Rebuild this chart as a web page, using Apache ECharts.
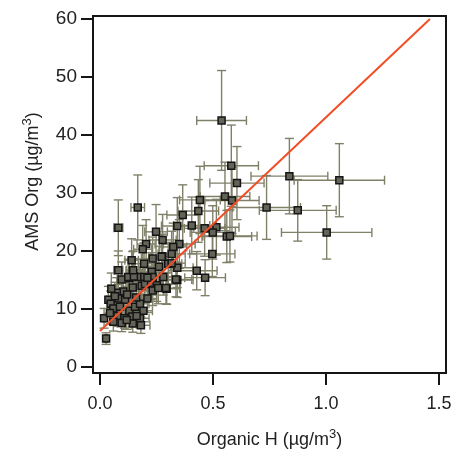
<!DOCTYPE html>
<html>
<head>
<meta charset="utf-8">
<script src="https://cdn.jsdelivr.net/npm/echarts@6/dist/echarts.min.js"></script>
<style>
  html, body { margin: 0; padding: 0; background: #fff; }
  #chart { width: 455px; height: 452px; }
</style>
</head>
<body>
<div id="chart"></div>
<script>
// 측정값 (Organic H, AMS Org) 과 오차
const xVals = [0.538, 0.581, 0.606, 0.553, 0.584, 0.737, 0.838, 1.059, 0.875, 1.003,
  0.167, 0.081, 0.442, 0.435, 0.366, 0.342, 0.406, 0.463, 0.515, 0.499,
  0.561, 0.575, 0.248, 0.277, 0.204, 0.189, 0.351, 0.324, 0.317, 0.497,
  0.140, 0.233, 0.276, 0.195, 0.261, 0.302, 0.342, 0.428, 0.081, 0.145,
  0.229, 0.096, 0.130, 0.170, 0.196, 0.233, 0.280, 0.342, 0.465, 0.145,
  0.184, 0.199, 0.226, 0.251, 0.295, 0.233, 0.258, 0.103, 0.074, 0.037,
  0.047, 0.081, 0.111, 0.059, 0.088, 0.130, 0.155, 0.192, 0.177, 0.077,
  0.108, 0.143, 0.177, 0.018, 0.059, 0.096, 0.145, 0.181, 0.027, 0.044,
  0.066, 0.118, 0.162, 0.120, 0.210, 0.160, 0.050, 0.125, 0.150, 0.210,
  0.292, 0.317, 0.336, 0.273, 0.147];
const yVals = [42.5, 34.7, 31.7, 29.4, 28.7, 27.5, 32.9, 32.2, 27.0, 23.2,
  27.5, 24.0, 28.8, 26.9, 26.2, 24.3, 24.4, 23.9, 24.1, 23.2,
  22.5, 22.6, 23.3, 21.9, 21.2, 20.3, 21.2, 20.7, 19.5, 19.5,
  18.4, 18.7, 19.1, 17.8, 17.3, 17.8, 17.1, 16.6, 16.7, 16.6,
  16.4, 15.1, 15.3, 15.5, 15.5, 15.5, 15.5, 15.0, 15.4, 13.7,
  14.0, 14.3, 14.5, 14.1, 13.5, 13.2, 13.6, 13.0, 12.8, 11.6,
  10.9, 11.8, 11.6, 10.1, 10.4, 9.7, 10.4, 9.7, 10.9, 8.8,
  8.4, 8.7, 8.4, 8.4, 7.8, 7.6, 7.5, 7.2, 4.9, 9.3,
  12.2, 8.1, 8.8, 12.5, 11.8, 12.0, 13.5, 15.5, 15.6, 15.4,
  13.6, 17.9, 15.1, 19.0, 16.7];
const xErr = [0.11, 0.12, 0.12, 0.11, 0.12, 0.15, 0.17, 0.20, 0.17, 0.20,
  0.03, 0.02, 0.09, 0.09, 0.07, 0.07, 0.08, 0.09, 0.10, 0.10,
  0.11, 0.12, 0.05, 0.06, 0.04, 0.04, 0.07, 0.06, 0.06, 0.10,
  0.03, 0.05, 0.06, 0.04, 0.05, 0.06, 0.07, 0.09, 0.02, 0.03,
  0.05, 0.02, 0.03, 0.03, 0.04, 0.05, 0.06, 0.07, 0.09, 0.03,
  0.04, 0.04, 0.05, 0.05, 0.06, 0.05, 0.05, 0.02, 0.015, 0.008,
  0.01, 0.02, 0.02, 0.012, 0.02, 0.03, 0.03, 0.04, 0.04, 0.015,
  0.02, 0.03, 0.04, 0.004, 0.012, 0.02, 0.03, 0.04, 0.005, 0.01,
  0.013, 0.02, 0.03, 0.02, 0.04, 0.03, 0.01, 0.03, 0.03, 0.04,
  0.06, 0.06, 0.07, 0.05, 0.03];
const yErr = [8.6, 7.0, 6.3, 5.9, 5.7, 5.5, 6.5, 6.3, 5.3, 4.6,
  5.6, 4.8, 5.8, 5.4, 5.2, 4.9, 4.9, 4.8, 4.8, 4.6,
  4.5, 4.5, 4.7, 4.4, 4.2, 4.1, 4.2, 4.1, 3.9, 3.9,
  3.7, 3.7, 3.8, 3.6, 3.5, 3.6, 3.4, 3.3, 3.3, 3.3,
  3.3, 3.0, 3.1, 3.1, 3.1, 3.1, 3.1, 3.0, 3.1, 2.7,
  2.8, 2.9, 2.9, 2.8, 2.7, 2.6, 2.7, 2.6, 2.6, 2.3,
  2.2, 2.4, 2.3, 2.0, 2.1, 1.9, 2.1, 1.9, 2.2, 1.8,
  1.7, 1.7, 1.7, 1.7, 1.6, 1.5, 1.5, 1.4, 1.0, 1.9,
  2.4, 1.6, 1.8, 2.5, 2.4, 2.4, 2.7, 3.1, 3.1, 3.1,
  2.7, 3.6, 3.0, 3.8, 3.3];

// 회귀선 양 끝점
const fitX = [0, 1.46];
const fitY = [6.2, 60];

// 눈금
const xTicks = [0, 0.5, 1.0, 1.5];
const yTicks = [0, 10, 20, 30, 40, 50, 60];

const chart = echarts.init(document.getElementById('chart'));

const points = xVals.map((x, i) => [x, yVals[i]]);
const errData = xVals.map((x, i) => [x, yVals[i], xErr[i], yErr[i]]);
const fitData = fitX.map((x, i) => [x, fitY[i]]);

const barColor = '#808069';
const cap = 4.5;

// 오차 막대 (가로, 세로 + 끝 캡)
function renderErr(params, api) {
    const x = api.value(0), y = api.value(1);
    const ex = api.value(2), ey = api.value(3);
    const l = api.coord([x - ex, y]);
    const r = api.coord([x + ex, y]);
    const t = api.coord([x, y + ey]);
    const b = api.coord([x, y - ey]);
    const st = { stroke: barColor, lineWidth: 1.4 };
    const seg = (x1, y1, x2, y2) => ({ type: 'line', shape: { x1, y1, x2, y2 }, style: st });
    return {
        type: 'group',
        children: [
            seg(l[0], l[1], r[0], r[1]),
            seg(t[0], t[1], b[0], b[1]),
            seg(l[0], l[1] - cap, l[0], l[1] + cap),
            seg(r[0], r[1] - cap, r[0], r[1] + cap),
            seg(t[0] - cap, t[1], t[0] + cap, t[1]),
            seg(b[0] - cap, b[1], b[0] + cap, b[1])
        ]
    };
}

const font = 'Liberation Sans, Arial, sans-serif';

const option = {
    backgroundColor: '#fff',
    animation: false,
    grid: {
        left: 93, right: 9, top: 16, bottom: 79,
        outerBoundsMode: 'none',
        show: true, borderColor: '#151515', borderWidth: 2
    },
    xAxis: {
        type: 'value',
        min: -0.031, max: 1.531,
        splitLine: { show: false },
        axisLine: { show: true, onZero: false, lineStyle: { color: '#151515', width: 2 } },
        axisTick: { show: true, inside: false, length: 12, customValues: xTicks,
            lineStyle: { color: '#151515', width: 2 } },
        axisLabel: { customValues: xTicks, margin: 22, fontSize: 18, color: '#222',
            fontFamily: font, formatter: v => v.toFixed(1) },
        name: 'Organic H (µg/m{sup|3})',
        nameLocation: 'middle',
        nameGap: 55,
        nameTextStyle: { fontSize: 18, color: '#222', fontFamily: font,
            rich: { sup: { fontSize: 13, color: '#222', fontFamily: font, padding: [0, 0, 12, 0] } } }
    },
    yAxis: {
        type: 'value',
        min: -1.03, max: 60.5,
        splitLine: { show: false },
        axisLine: { show: true, onZero: false, lineStyle: { color: '#151515', width: 2 } },
        axisTick: { show: true, inside: false, length: 12, customValues: yTicks,
            lineStyle: { color: '#151515', width: 2 } },
        axisLabel: { customValues: yTicks, margin: 16, fontSize: 19, color: '#222', fontFamily: font },
        name: 'AMS Org (µg/m{sup|3})',
        nameLocation: 'middle',
        nameGap: 47,
        nameTextStyle: { fontSize: 18, color: '#222', fontFamily: font, padding: [0, 0, 0, 26],
            rich: { sup: { fontSize: 13, color: '#222', fontFamily: font, padding: [0, 0, 12, 0] } } }
    },
    series: [
        {
            type: 'custom',
            renderItem: renderErr,
            data: errData,
            encode: { x: 0, y: 1 },
            z: 1,
            silent: true
        },
        {
            type: 'scatter',
            data: points,
            symbol: 'rect',
            symbolSize: 7,
            itemStyle: { color: '#636358', borderColor: '#151515', borderWidth: 1.5, opacity: 1 },
            z: 2
        },
        {
            type: 'line',
            data: fitData,
            showSymbol: false,
            lineStyle: { color: '#f24e26', width: 2 },
            z: 3
        }
    ]
};

chart.setOption(option);
</script>
</body>
</html>
